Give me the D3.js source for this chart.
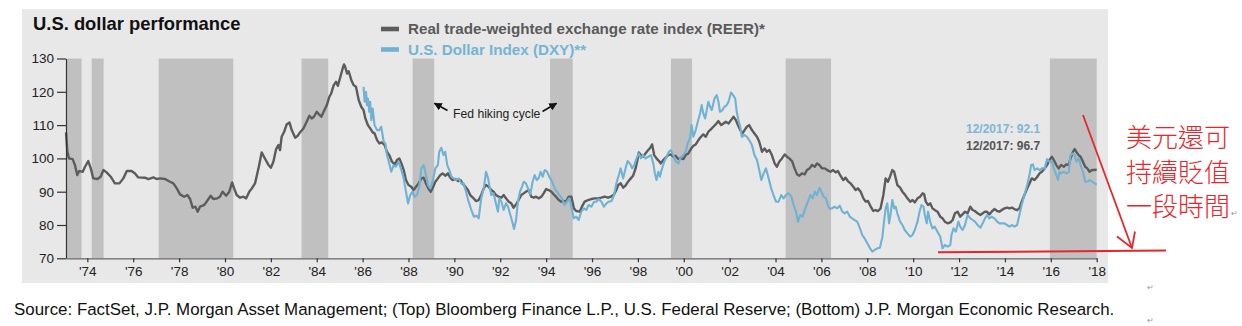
<!DOCTYPE html>
<html><head><meta charset="utf-8">
<script src="https://cdn.jsdelivr.net/npm/d3@7"></script>
<style>html,body{margin:0;padding:0;background:#fff;}svg{display:block;}</style>
</head><body>
<script>
// ---- data ----
const yTicks = [70, 80, 90, 100, 110, 120, 130];
const xTickYears = [1974,1976,1978,1980,1982,1984,1986,1988,1990,1992,1994,1996,1998,2000,2002,2004,2006,2008,2010,2012,2014,2016,2018];
const xTickLabels = ["'74","'76","'78","'80","'82","'84","'86","'88","'90","'92","'94","'96","'98","'00","'02","'04","'06","'08","'10","'12","'14","'16","'18"];
const hikeStart = [1973.10, 1974.19, 1977.11, 1983.34, 1988.18, 1994.17, 1999.44, 2004.44, 2015.96];
const hikeEnd   = [1973.75, 1974.71, 1980.36, 1984.50, 1989.12, 1995.16, 2000.36, 2006.42, 2018.00];
const seriesNames = ["Real trade-weighted exchange rate index (REER)*", "U.S. Dollar Index (DXY)**"];

const reerYears = [1973.07,1973.13,1973.2,1973.36,1973.46,1973.56,1973.65,1973.8,1973.9,1974.04,1974.15,1974.26,1974.44,1974.58,1974.7,1974.84,1975.02,1975.2,1975.4,1975.57,1975.72,1975.93,1976.08,1976.22,1976.51,1976.66,1976.88,1977.02,1977.17,1977.39,1977.6,1977.75,1977.9,1978.04,1978.22,1978.36,1978.48,1978.59,1978.71,1978.81,1978.91,1979.09,1979.2,1979.38,1979.49,1979.67,1979.78,1979.9,1980.05,1980.19,1980.31,1980.4,1980.51,1980.66,1980.8,1980.92,1981.06,1981.17,1981.31,1981.46,1981.6,1981.7,1981.9,1982.0,1982.11,1982.23,1982.33,1982.4,1982.47,1982.58,1982.69,1982.81,1982.91,1983.06,1983.16,1983.27,1983.42,1983.56,1983.68,1983.78,1983.88,1984.0,1984.1,1984.2,1984.3,1984.44,1984.55,1984.63,1984.74,1984.84,1984.92,1985.03,1985.13,1985.19,1985.24,1985.32,1985.39,1985.51,1985.61,1985.71,1985.83,1985.94,1986.04,1986.12,1986.23,1986.33,1986.44,1986.52,1986.63,1986.73,1986.84,1986.96,1987.06,1987.16,1987.28,1987.4,1987.5,1987.6,1987.69,1987.79,1987.89,1988.0,1988.12,1988.22,1988.33,1988.44,1988.56,1988.66,1988.76,1988.88,1988.97,1989.05,1989.17,1989.28,1989.39,1989.49,1989.6,1989.72,1989.82,1989.92,1990.04,1990.16,1990.26,1990.36,1990.48,1990.59,1990.69,1990.84,1990.94,1991.06,1991.17,1991.28,1991.38,1991.49,1991.61,1991.71,1991.81,1991.93,1992.05,1992.15,1992.25,1992.37,1992.48,1992.58,1992.69,1992.8,1992.92,1993.02,1993.12,1993.24,1993.35,1993.46,1993.56,1993.67,1993.79,1993.89,1994.0,1994.11,1994.23,1994.33,1994.43,1994.55,1994.66,1994.76,1994.87,1994.98,1995.1,1995.21,1995.31,1995.46,1995.56,1995.68,1995.83,1995.97,1996.12,1996.26,1996.41,1996.55,1996.7,1996.82,1996.96,1997.06,1997.14,1997.25,1997.36,1997.46,1997.57,1997.69,1997.79,1997.9,1997.98,1998.04,1998.13,1998.23,1998.33,1998.45,1998.54,1998.62,1998.71,1998.81,1998.92,1999.0,1999.1,1999.21,1999.32,1999.44,1999.54,1999.64,1999.76,1999.88,1999.98,2000.08,2000.2,2000.31,2000.42,2000.52,2000.64,2000.75,2000.85,2000.96,2001.07,2001.19,2001.29,2001.39,2001.51,2001.63,2001.73,2001.83,2001.95,2002.06,2002.17,2002.27,2002.36,2002.46,2002.56,2002.65,2002.75,2002.85,2002.97,2003.08,2003.19,2003.29,2003.41,2003.52,2003.62,2003.73,2003.84,2003.96,2004.06,2004.16,2004.28,2004.4,2004.5,2004.6,2004.72,2004.83,2004.94,2005.04,2005.15,2005.27,2005.37,2005.48,2005.59,2005.71,2005.81,2005.91,2006.03,2006.15,2006.25,2006.4,2006.51,2006.62,2006.72,2006.83,2006.95,2007.05,2007.15,2007.27,2007.39,2007.49,2007.59,2007.71,2007.83,2007.93,2008.03,2008.15,2008.26,2008.36,2008.47,2008.58,2008.7,2008.8,2008.9,2008.99,2009.09,2009.17,2009.24,2009.31,2009.43,2009.53,2009.63,2009.75,2009.87,2009.97,2010.07,2010.19,2010.3,2010.41,2010.48,2010.55,2010.65,2010.74,2010.84,2010.94,2011.06,2011.18,2011.28,2011.38,2011.5,2011.62,2011.72,2011.82,2011.94,2012.05,2012.15,2012.26,2012.37,2012.49,2012.59,2012.69,2012.81,2012.93,2013.03,2013.13,2013.22,2013.32,2013.42,2013.54,2013.66,2013.76,2013.86,2013.98,2014.09,2014.2,2014.3,2014.41,2014.53,2014.63,2014.73,2014.85,2014.97,2015.07,2015.17,2015.29,2015.41,2015.51,2015.61,2015.73,2015.84,2015.94,2016.05,2016.13,2016.24,2016.34,2016.45,2016.57,2016.67,2016.78,2016.86,2016.97,2017.04,2017.11,2017.21,2017.3,2017.4,2017.5,2017.59,2017.69,2017.8,2017.91,2018.0];
const reerValues = [107.8,102,100,99.8,98,95,96.2,96,97.5,99.2,97,94,93.8,94.5,96.5,95.8,94.5,92.5,92.5,94,96.2,96.2,95.5,94.3,94.2,93.8,94.3,93.8,94,93.8,93,92.5,91,89.2,88.5,89,87.8,85.2,85.5,84,85.5,86,87,88.8,87.8,88,88.5,90,88.8,90,92.8,91,89,88.2,88.5,88,90,91,92.5,97,101.8,100.5,98,97.2,99,102.8,104,102.5,106.5,108,110.2,110.8,108.5,106.2,106.7,107.8,109,111,112.8,112,112.5,114,113.2,112.5,114,116,118.5,119.5,122,123,121.8,124.5,127,128.2,127.5,125.5,126.2,123.5,122,121.5,117.5,115.5,114.5,112,110,109,107.8,107.5,105.5,104.5,104.8,104,102,101,99,98.2,99.5,100,98.5,96.5,93.5,92,91.5,90.5,91.5,92.5,94,94.2,92.5,90.8,90,91,93,94,95,95.5,94.8,95.5,94.2,93.5,93.8,93.2,93.5,92.5,91.5,90.5,89,88,87.2,87.5,89,91,92,91.5,90.5,90,89,88.5,88.2,89,88,87,86.5,85.2,86.2,87.5,89,89.5,90,90.5,88.5,88.2,88.5,88,88.5,89.5,90.8,90.5,90,89.2,88.5,87.5,87,87.2,87,88.5,88.5,85,84.2,84,85.5,87,87.5,87.8,88,88,88.2,88.5,88.2,88.5,89.2,90.5,92,92.5,91.2,91.8,93,94,94.8,97,99.5,101.8,101,100.5,101.5,102.5,103.2,104.2,101,100,99.2,98.5,99.5,100.2,101,101.2,100.5,100.8,99.8,100,99.8,101,101.5,102.8,103.8,104.2,105.5,106.5,107.2,106.5,108,108.8,109.5,110.2,111.2,110,110.5,111,110.5,111.5,112.5,111.5,110,108.5,107.5,108.5,109.5,110,108.5,107.5,106.5,105,102,103,102,102.5,101,98.5,97.5,99,100,101.2,100.5,100,99.2,97,95.2,94.8,95.5,95.2,96.5,97,98,97.5,98.5,98,97,97,96.5,96,96.5,95.8,96.2,94.8,93.5,94.2,93.2,92.5,91.5,90.5,91,90,88,87,87.2,85.5,84.2,84.5,84.2,85,89,94,93,94.5,96.5,96,94,92,91.2,90,89.2,88,87,87.5,86.8,88,88.5,89.5,89.2,87,86,86.5,85,84.5,84,82.5,82,81,80.5,80.8,81.5,83.5,84,82.5,83.2,84,83.5,85.5,84.5,84.2,83.5,83,83.5,84,84,83.2,84,84.8,84.2,84,84.5,85,85.2,85,85.2,84.8,84.5,85,87,89,91,92.5,94,93.5,94.5,95.5,96,97,98,99.5,100.5,99.5,98,97,98,97.5,98.2,98,100,102,102.8,102,101,100.5,99,97.5,97,96,96.5,96.5,96.7];

const dxyYears = [1986.04,1986.09,1986.15,1986.19,1986.23,1986.29,1986.33,1986.38,1986.44,1986.52,1986.63,1986.73,1986.81,1986.92,1986.99,1987.06,1987.16,1987.25,1987.35,1987.45,1987.57,1987.69,1987.79,1987.89,1987.98,1988.08,1988.17,1988.27,1988.37,1988.47,1988.56,1988.66,1988.73,1988.85,1988.95,1989.05,1989.17,1989.28,1989.34,1989.43,1989.53,1989.6,1989.69,1989.78,1989.87,1989.97,1990.07,1990.19,1990.3,1990.4,1990.51,1990.62,1990.74,1990.85,1990.97,1991.06,1991.17,1991.28,1991.38,1991.47,1991.52,1991.61,1991.71,1991.81,1991.9,1991.96,1992.05,1992.15,1992.25,1992.34,1992.44,1992.54,1992.6,1992.69,1992.77,1992.86,1992.95,1993.02,1993.12,1993.21,1993.31,1993.41,1993.5,1993.59,1993.67,1993.76,1993.85,1993.94,1994.04,1994.14,1994.26,1994.37,1994.47,1994.58,1994.69,1994.81,1994.91,1995.01,1995.1,1995.2,1995.31,1995.42,1995.53,1995.65,1995.75,1995.85,1995.97,1996.09,1996.19,1996.29,1996.41,1996.52,1996.63,1996.73,1996.85,1996.96,1997.06,1997.17,1997.25,1997.36,1997.46,1997.55,1997.65,1997.75,1997.84,1997.94,1998.04,1998.13,1998.23,1998.33,1998.45,1998.57,1998.67,1998.74,1998.81,1998.89,1998.96,1999.03,1999.15,1999.25,1999.35,1999.44,1999.54,1999.64,1999.76,1999.88,1999.98,2000.08,2000.17,2000.27,2000.34,2000.42,2000.52,2000.61,2000.71,2000.78,2000.85,2000.93,2001.0,2001.07,2001.15,2001.22,2001.34,2001.44,2001.51,2001.58,2001.69,2001.77,2001.87,2001.95,2002.06,2002.17,2002.24,2002.31,2002.38,2002.46,2002.53,2002.65,2002.75,2002.85,2002.97,2003.08,2003.19,2003.29,2003.38,2003.48,2003.58,2003.7,2003.81,2003.91,2004.02,2004.13,2004.25,2004.35,2004.45,2004.57,2004.69,2004.79,2004.89,2004.98,2005.08,2005.18,2005.3,2005.41,2005.52,2005.62,2005.71,2005.81,2005.91,2006.0,2006.1,2006.2,2006.3,2006.37,2006.47,2006.57,2006.69,2006.8,2006.91,2007.01,2007.13,2007.24,2007.34,2007.45,2007.56,2007.68,2007.78,2007.88,2008.0,2008.12,2008.22,2008.32,2008.44,2008.55,2008.66,2008.73,2008.8,2008.87,2008.95,2009.02,2009.09,2009.17,2009.24,2009.31,2009.43,2009.53,2009.63,2009.75,2009.87,2009.97,2010.07,2010.19,2010.26,2010.36,2010.45,2010.51,2010.59,2010.65,2010.74,2010.84,2010.94,2011.06,2011.18,2011.28,2011.38,2011.5,2011.62,2011.67,2011.76,2011.86,2011.97,2012.05,2012.15,2012.26,2012.37,2012.49,2012.59,2012.69,2012.81,2012.93,2013.03,2013.13,2013.22,2013.32,2013.42,2013.54,2013.66,2013.76,2013.86,2013.98,2014.09,2014.2,2014.3,2014.41,2014.53,2014.63,2014.73,2014.85,2014.97,2015.07,2015.14,2015.22,2015.29,2015.41,2015.51,2015.61,2015.73,2015.84,2015.94,2016.05,2016.13,2016.24,2016.31,2016.38,2016.45,2016.57,2016.67,2016.78,2016.86,2016.97,2017.04,2017.11,2017.21,2017.3,2017.4,2017.5,2017.59,2017.69,2017.8,2017.91,2018.0];
const dxyValues = [121.5,117,120,116,118,114,117,111.5,115,110,108.5,108.5,109.5,105,104.5,101,98.5,96,98,97.5,99,96.5,94,90,86.5,89,90,88.5,89,91.5,97,98,96,92,91,93,97,98,102,103.2,101,102,98,96.5,94.5,94,93.5,94,92.5,92.5,90,87,84.5,82.5,82.8,82,88,91,96,94,92,89,89.5,86.5,84,88,87,84.5,86.5,85.5,83,80.5,78.8,81.5,87,90,91.5,93,92.5,91,89.2,93,95,93.5,94,96,94.5,96.5,96,94.5,93,91,90,89,88,86,87,88,85.5,82,82.5,81.5,84,85,84.5,86,85.5,87,87,87.8,87,85.5,86.5,87,87.2,89,92.5,95,97,94,97,99.2,98.5,97,98,100,101.5,100,101,100,100.5,101,98.5,95.5,93.5,96,94.5,96.5,99,100.5,102,102.5,101,99.2,98.5,100.5,101,102,104.5,106,110,106.5,108.5,111,113.5,116,113.5,112,114.5,117,115.5,114.5,118,119,117,114,114.5,115.5,116,117,119.8,118.8,118,114,111.5,109.5,106.5,107,106.5,105.5,104,101,99.5,96.5,93.5,95.5,97,94,91,89,87,87,89,88,89,89.5,88.5,86,84,81,83,82.5,85,87,89,88,90,89,91.2,90,88.5,88,85.5,84.8,85,85.5,85,85.8,84,83.5,84,82.5,82,81.5,81,79,77,76,74.5,73,72,72.5,73,73.2,76.5,81,85,86.5,80.5,83.5,87.5,85,85.5,83.5,81,80,78.5,77.5,76.5,77,78.5,81,83.5,86,85.5,83,80.5,84,81,79,79.5,78,76.5,73,74,73.5,74,77,79,78,81,79.5,78.5,80,83,82,81.5,81,80,79.2,80.5,82,83,82,82.5,82,81,80.5,80.5,80.5,80,79.5,80,79.5,80,83,86,89,92,95,98,98.2,96.5,97,96.5,97,97,99.8,99,99,97,95,93.5,96,95.5,96,95.5,95.8,101,101.5,101,99,100,98,96,93,93,93.5,93,92.5,92.1];

// ---- layout ----
const W = 1242, H = 326;
const FONT = "'Liberation Sans', Arial, Helvetica, sans-serif";
const C = {panel:"#e8e8e8", hike:"#c0c0c0", reer:"#5c5c5c", dxy:"#6fb2d4", axis:"#333", red:"#e8262a"};

const svg = d3.select("body").append("svg").attr("width", W).attr("height", H)
  .style("font-family", FONT);

svg.append("rect").attr("x", 22).attr("y", 9).attr("width", 1086).attr("height", 274).attr("fill", C.panel);

const x = d3.scaleLinear().domain([1973.07, 2018]).range([66, 1096.7]);
const y = d3.scaleLinear().domain([70, 130]).range([258.3, 58.5]);

// hiking cycle bars
svg.append("g").selectAll("rect").data(hikeStart).join("rect")
  .attr("x", (d) => x(d))
  .attr("width", (d, i) => x(hikeEnd[i]) - x(d))
  .attr("y", y(130)).attr("height", y(70) - y(130))
  .attr("fill", C.hike);

// lines
const line = d3.line().x(d => x(d[0])).y(d => y(d[1])).curve(d3.curveLinear);
const reer = reerYears.map((t, i) => [t, reerValues[i]]);
const dxy = dxyYears.map((t, i) => [t, dxyValues[i]]);
svg.append("path").datum(reer).attr("d", line).attr("fill", "none")
  .attr("stroke", C.reer).attr("stroke-width", 2.4).attr("stroke-linejoin", "round");
svg.append("path").datum(dxy).attr("d", line).attr("fill", "none")
  .attr("stroke", C.dxy).attr("stroke-width", 2.1).attr("stroke-linejoin", "round");

// axes
const yAxis = svg.append("g").attr("transform", `translate(66,0)`)
  .call(d3.axisLeft(y).tickValues(yTicks).tickSize(9).tickPadding(3).tickSizeOuter(0));
const xAxis = svg.append("g").attr("transform", `translate(0,${y(70)})`)
  .call(d3.axisBottom(x).tickValues(xTickYears).tickFormat((d, i) => xTickLabels[i]).tickSize(4).tickPadding(4).tickSizeOuter(0));
[yAxis, xAxis].forEach(g => {
  g.selectAll("path,line").attr("stroke", C.axis).attr("stroke-width", 1.2);
  g.selectAll("text").attr("fill", "#222").style("font-family", FONT).style("font-size", "13.5px");
});
xAxis.select(".domain").attr("stroke", "#666");

// title
svg.append("text").attr("x", 33).attr("y", 30).text("U.S. dollar performance")
  .attr("font-weight", "bold").attr("font-size", 18.4).attr("fill", "#111");

// legend
const legColors = [C.reer, C.dxy];
const legText = ["#5a5a5a", "#74b4d4"];
seriesNames.forEach((s, i) => {
  const cy = 29 + i * 20.5;
  svg.append("rect").attr("x", 381).attr("y", cy - 2.3).attr("width", 18).attr("height", 4.6).attr("fill", legColors[i]);
  svg.append("text").attr("x", 408).attr("y", cy + 5.3).text(s)
    .attr("font-weight", "bold").attr("font-size", 15.2).attr("fill", legText[i]);
});

// Fed hiking cycle annotation
svg.append("defs").append("marker").attr("id", "ah").attr("viewBox", "0 0 10 10")
  .attr("refX", 9).attr("refY", 5).attr("markerWidth", 5).attr("markerHeight", 5)
  .attr("orient", "auto").append("path").attr("d", "M0,0L10,5L0,10z").attr("fill", "#111");
svg.append("line").attr("x1", 447.5).attr("y1", 110.5).attr("x2", 434.5).attr("y2", 103.3)
  .attr("stroke", "#111").attr("stroke-width", 1.6).attr("marker-end", "url(#ah)");
svg.append("line").attr("x1", 542.5).attr("y1", 111.5).attr("x2", 556.5).attr("y2", 103.3)
  .attr("stroke", "#111").attr("stroke-width", 1.6).attr("marker-end", "url(#ah)");
svg.append("text").attr("x", 453).attr("y", 117.5).text("Fed hiking cycle")
  .attr("font-size", 12.2).attr("fill", "#222");

// latest value labels
svg.append("text").attr("x", 966).attr("y", 133).text("12/2017: 92.1")
  .attr("font-weight", "bold").attr("font-size", 12).attr("fill", "#7db7d4");
svg.append("text").attr("x", 966).attr("y", 150).text("12/2017: 96.7")
  .attr("font-weight", "bold").attr("font-size", 12).attr("fill", "#555");

// source
svg.append("text").attr("x", 14).attr("y", 315).text("Source: FactSet, J.P. Morgan Asset Management; (Top) Bloomberg Finance L.P., U.S. Federal Reserve; (Bottom) J.P. Morgan Economic Research.")
  .attr("font-size", 16.9).attr("fill", "#111");

// paragraph marks
[[1147, 290], [1147, 323]].forEach(p => {
  svg.append("text").attr("x", p[0]).attr("y", p[1]).text("↵").attr("font-size", 8).attr("fill", "#999");
});

// red annotation (one multi-line text block)
const cn = ["美元還可", "持續貶值", "一段時間"];
const cnText = svg.append("text").attr("x", 1126).attr("y", 147)
  .style("font-family", "'Noto Sans CJK TC', 'Noto Sans CJK SC', sans-serif")
  .attr("font-size", 26).attr("font-weight", 300).attr("fill", C.red);
cn.forEach((s, i) => {
  cnText.append("tspan").attr("x", 1126).attr("dy", i === 0 ? 0 : 34.5).text(s);
});
cnText.append("tspan").attr("dx", 1).attr("font-size", 8).attr("fill", "#999")
  .style("font-family", FONT).text("↵");

svg.append("line").attr("x1", 1083).attr("y1", 115).attr("x2", 1132).attr("y2", 248)
  .attr("stroke", C.red).attr("stroke-width", 1.8);
svg.append("polyline").attr("points", "1117,236.5 1132,248 1135,231.5")
  .attr("fill", "none").attr("stroke", C.red).attr("stroke-width", 1.8);
svg.append("line").attr("x1", 938).attr("y1", 252.3).attr("x2", 1166).attr("y2", 250.6)
  .attr("stroke", C.red).attr("stroke-width", 2);
</script>
</body></html>
